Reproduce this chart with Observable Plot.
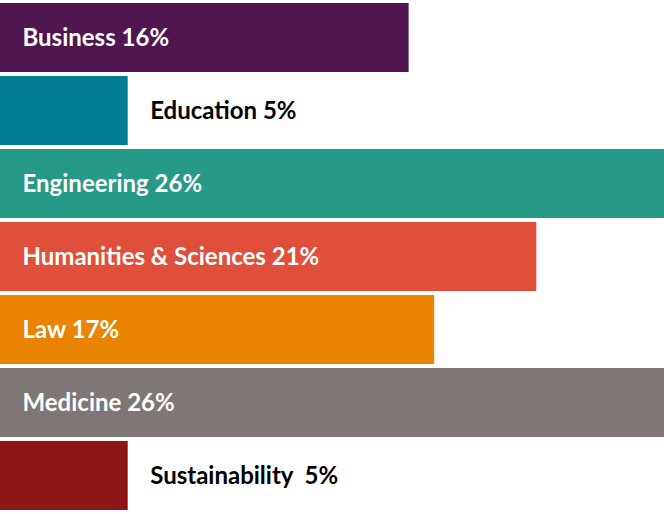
<!DOCTYPE html>
<html>
<head>
<meta charset="utf-8">
<script src="https://cdn.jsdelivr.net/npm/d3@7"></script>
<script src="https://cdn.jsdelivr.net/npm/@observablehq/plot@0.6"></script>
<style>body{margin:0;background:#fff}</style>
</head>
<body>
<div id="chart"></div>
<script>
const schools = ["Business", "Education", "Engineering", "Humanities & Sciences", "Law", "Medicine", "Sustainability"];
const shares = [16, 5, 26, 21, 17, 26, 5];
const colors = ["#4F1650", "#007C92", "#279989", "#E04F39", "#E98300", "#7F7776", "#8C1515"];
const labels = ["Business 16%", "Education 5%", "Engineering 26%", "Humanities & Sciences 21%", "Law 17%", "Medicine 26%", "Sustainability\u00a0\u00a05%"];

const data = schools.map((s, i) => ({ school: s, share: shares[i], color: colors[i], label: labels[i] }));
const inside = d => d.share > 8;

const chart = Plot.plot({
    width: 664,
    height: 514,
    margin: 0,
    x: { domain: [0, 26], axis: null },
    y: { domain: schools, axis: null, paddingInner: 0.054, paddingOuter: 0 },
    style: { fontFamily: "Lato, 'Noto Sans', sans-serif" },
    marks: [
        Plot.barX(data, { y: "school", x: "share", fill: "color" }),
        Plot.text(data, {
            y: "school", x: d => inside(d) ? 0 : d.share, dx: 22,
            text: "label", textAnchor: "start", fontSize: 24, fontWeight: "bold",
            fill: d => inside(d) ? "white" : "black"
        })
    ]
});
document.getElementById("chart").append(chart);
</script>
</body>
</html>
